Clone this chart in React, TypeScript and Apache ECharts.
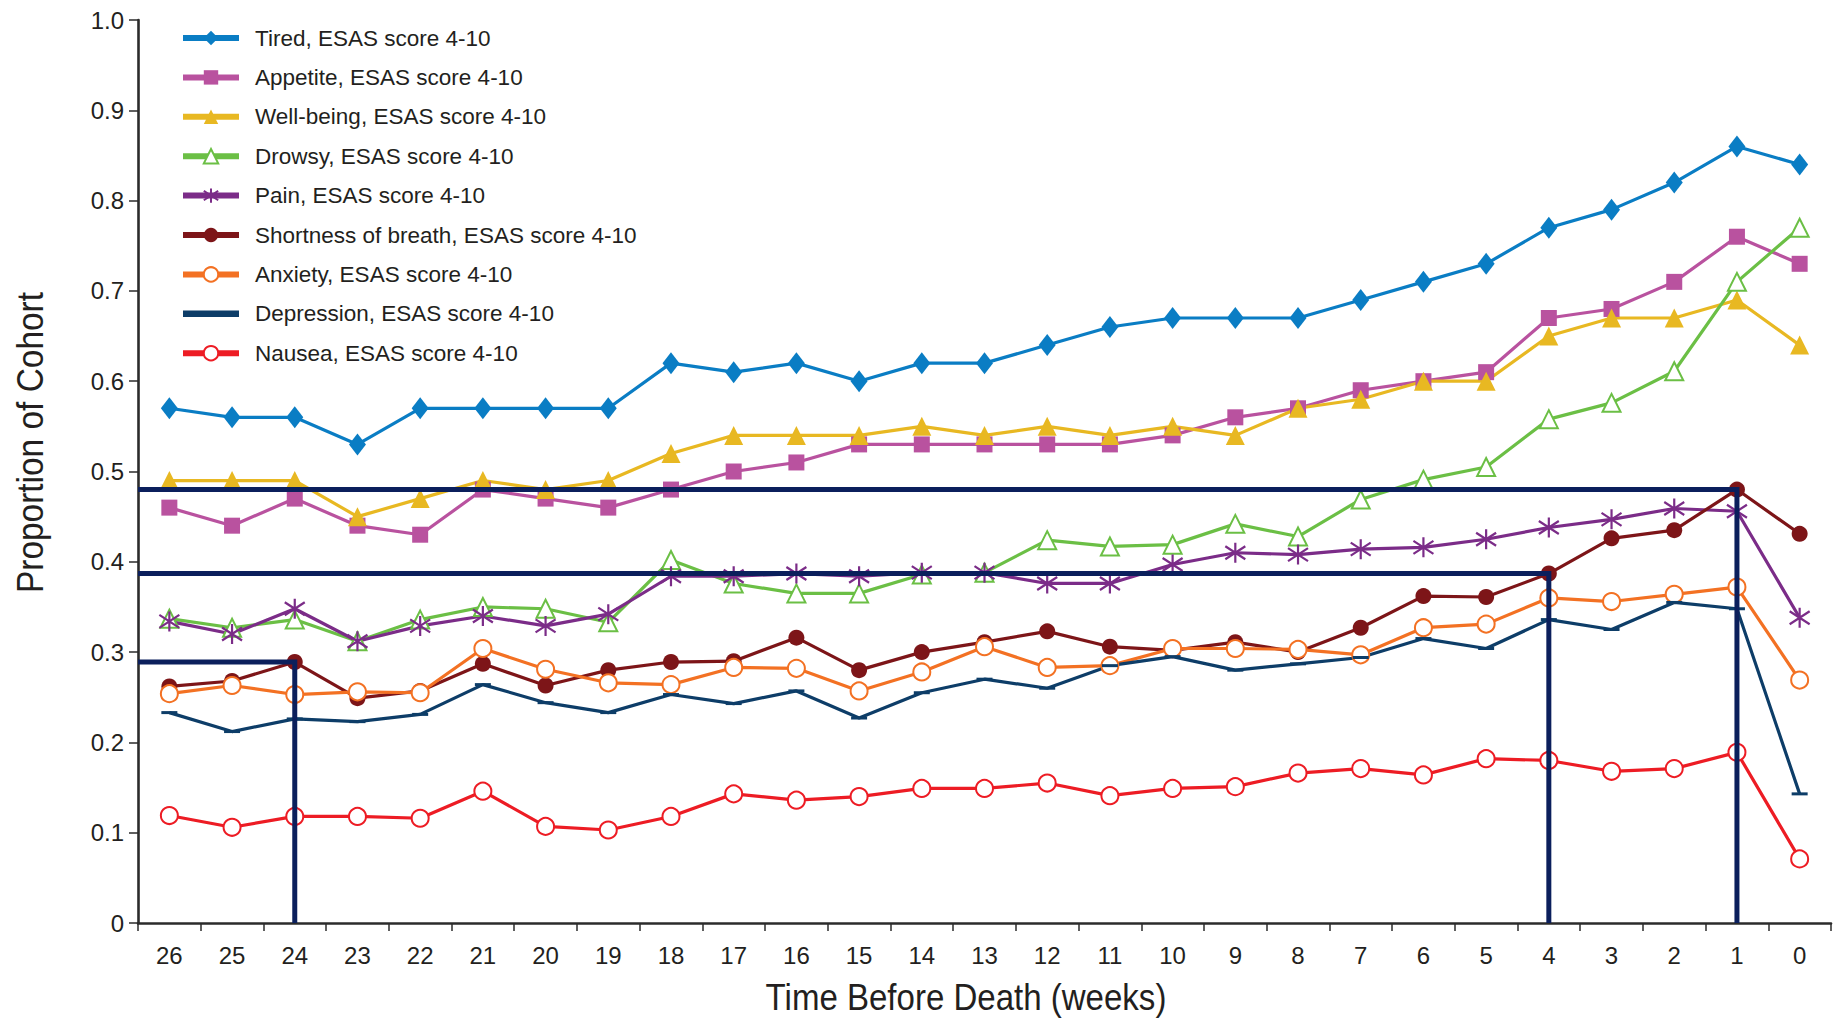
import React, { useEffect, useRef } from "react";
import * as echarts from "echarts";

const weeks = ["26", "25", "24", "23", "22", "21", "20", "19", "18", "17", "16", "15", "14", "13", "12", "11", "10", "9", "8", "7", "6", "5", "4", "3", "2", "1", "0"];

const tired = [0.57, 0.56, 0.56, 0.53, 0.57, 0.57, 0.57, 0.57, 0.62, 0.61, 0.62, 0.60, 0.62, 0.62, 0.64, 0.66, 0.67, 0.67, 0.67, 0.69, 0.71, 0.73, 0.77, 0.79, 0.82, 0.86, 0.84];
const appetite = [0.46, 0.44, 0.47, 0.44, 0.43, 0.48, 0.47, 0.46, 0.48, 0.50, 0.51, 0.53, 0.53, 0.53, 0.53, 0.53, 0.54, 0.56, 0.57, 0.59, 0.60, 0.61, 0.67, 0.68, 0.71, 0.76, 0.73];
const wellbeing = [0.49, 0.49, 0.49, 0.45, 0.47, 0.49, 0.48, 0.49, 0.52, 0.54, 0.54, 0.54, 0.55, 0.54, 0.55, 0.54, 0.55, 0.54, 0.57, 0.58, 0.60, 0.60, 0.65, 0.67, 0.67, 0.69, 0.64];
const drowsy = [0.337, 0.327, 0.336, 0.312, 0.336, 0.350, 0.348, 0.333, 0.402, 0.376, 0.365, 0.365, 0.386, 0.388, 0.424, 0.417, 0.419, 0.442, 0.428, 0.469, 0.491, 0.505, 0.558, 0.576, 0.611, 0.710, 0.770];
const pain = [0.334, 0.320, 0.348, 0.312, 0.329, 0.340, 0.329, 0.342, 0.384, 0.384, 0.387, 0.384, 0.388, 0.388, 0.376, 0.376, 0.397, 0.410, 0.408, 0.414, 0.416, 0.425, 0.438, 0.447, 0.459, 0.456, 0.338];
const breath = [0.262, 0.268, 0.289, 0.249, 0.257, 0.287, 0.263, 0.280, 0.289, 0.290, 0.316, 0.280, 0.300, 0.311, 0.323, 0.306, 0.302, 0.311, 0.300, 0.327, 0.362, 0.361, 0.387, 0.426, 0.435, 0.480, 0.431];
const anxiety = [0.254, 0.263, 0.253, 0.256, 0.255, 0.304, 0.281, 0.266, 0.264, 0.283, 0.282, 0.257, 0.278, 0.306, 0.283, 0.285, 0.304, 0.304, 0.303, 0.297, 0.327, 0.331, 0.360, 0.356, 0.364, 0.372, 0.269];
const depression = [0.233, 0.212, 0.226, 0.223, 0.231, 0.264, 0.244, 0.233, 0.253, 0.243, 0.257, 0.227, 0.255, 0.270, 0.260, 0.285, 0.295, 0.280, 0.287, 0.294, 0.315, 0.304, 0.336, 0.325, 0.355, 0.348, 0.143];
const nausea = [0.119, 0.106, 0.118, 0.118, 0.116, 0.146, 0.107, 0.103, 0.118, 0.143, 0.136, 0.140, 0.149, 0.149, 0.155, 0.141, 0.149, 0.151, 0.166, 0.171, 0.164, 0.182, 0.180, 0.168, 0.171, 0.189, 0.071];

// Reference (median) lines: weeks and values
const refWeeks = ["24", "4", "1"];
const refValues = [0.289, 0.387, 0.48];

const seriesNames = [
  "Tired, ESAS score 4-10",
  "Appetite, ESAS score 4-10",
  "Well-being, ESAS score 4-10",
  "Drowsy, ESAS score 4-10",
  "Pain, ESAS score 4-10",
  "Shortness of breath, ESAS score 4-10",
  "Anxiety, ESAS score 4-10",
  "Depression, ESAS score 4-10",
  "Nausea, ESAS score 4-10",
];

const FONT = "'Liberation Sans', Arial, Helvetica, sans-serif";
const TEXT = "#231f20";
const AXIS = "#2b2b2b";
const NAVY = "#0b1f5c";
const ASTERISK = "path://M10,0 L10,20 M1.5,3.5 L18.5,16.5 M1.5,16.5 L18.5,3.5";

export default function App() {
  const ref = useRef<HTMLDivElement>(null);

  useEffect(() => {
    const chart = echarts.init(ref.current!, null, { renderer: "svg" });

    const styles = [
      { data: tired, color: "#0a7dc4", symbol: "diamond", size: [17, 22], kind: "fill" },
      { data: appetite, color: "#b9529f", symbol: "rect", size: 16, kind: "fill" },
      { data: wellbeing, color: "#e8b822", symbol: "triangle", size: 19, kind: "fill" },
      { data: drowsy, color: "#6bbf45", symbol: "emptyTriangle", size: 18, kind: "empty" },
      { data: pain, color: "#7b2c88", symbol: ASTERISK, size: 20, kind: "stroke" },
      { data: breath, color: "#7d1518", symbol: "circle", size: 16, kind: "fill" },
      { data: anxiety, color: "#f37123", symbol: "emptyCircle", size: 17, kind: "empty" },
      { data: depression, color: "#0d3d68", symbol: "rect", size: [16, 3], kind: "fill" },
      { data: nausea, color: "#ed1c24", symbol: "emptyCircle", size: 17, kind: "empty" },
    ];

    const series: any[] = styles.map((s, i) => ({
      name: seriesNames[i],
      type: "line",
      data: s.data,
      symbol: s.symbol,
      symbolSize: s.size,
      showSymbol: true,
      color: s.color,
      lineStyle: { color: s.color, width: 3.2 },
      itemStyle:
        s.kind === "stroke"
          ? { color: s.color, borderColor: s.color, borderWidth: 2.2 }
          : s.kind === "empty"
          ? { color: s.color, borderWidth: 1.7 }
          : { color: s.color, borderWidth: 0 },
      z: 3,
    }));

    refWeeks.forEach((w, i) => {
      const idx = weeks.indexOf(w);
      const v = refValues[i];
      series.push({
        name: "ref" + i,
        type: "line",
        xAxisIndex: 1,
        data: [
          [-0.5, v],
          [idx, v],
          [idx, 0],
        ],
        symbol: "none",
        lineStyle: { color: NAVY, width: 5, cap: "butt", join: "miter" },
        z: 5,
        silent: true,
      });
    });

    chart.setOption({
      animation: false,
      backgroundColor: "#ffffff",
      grid: { left: 138, right: 4, top: 20, bottom: 99, containLabel: false },
      legend: {
        orient: "vertical",
        left: 180,
        top: 23,
        padding: 0,
        itemWidth: 56,
        itemHeight: 18,
        itemGap: 9.4,
        lineStyle: { width: 6 },
        textStyle: { fontFamily: FONT, fontSize: 22.5, color: TEXT, lineHeight: 24, padding: [0, 0, 6, 11] },
        data: seriesNames.map((n) =>
          n.startsWith("Depression") ? { name: n, icon: "path://M0,0 H60 V7 H0 Z" } : { name: n }
        ),
      },
      xAxis: [
        {
          type: "category",
          data: weeks,
          boundaryGap: true,
          axisLine: { show: true, lineStyle: { color: AXIS, width: 2.6 } },
          axisTick: { show: true, length: 8, lineStyle: { color: AXIS, width: 1.5 } },
          axisLabel: { fontFamily: FONT, fontSize: 24, color: TEXT, margin: 20 },
          splitLine: { show: false },
        },
        {
          type: "value",
          min: -0.5,
          max: 26.5,
          show: false,
          splitLine: { show: false },
        },
      ],
      yAxis: {
        type: "value",
        min: 0,
        max: 1,
        interval: 0.1,
        axisLine: { show: true, onZero: false, lineStyle: { color: AXIS, width: 2.6 } },
        axisTick: { show: true, length: 9, lineStyle: { color: AXIS, width: 1.5 } },
        axisLabel: {
          fontFamily: FONT,
          fontSize: 24,
          color: TEXT,
          margin: 14,
          formatter: (v: number) => (v === 0 ? "0" : v.toFixed(1)),
        },
        splitLine: { show: false },
      },
      graphic: [
        {
          type: "text",
          x: 29.5,
          y: 442.5,
          rotation: Math.PI / 2,
          scaleX: 0.904,
          style: {
            text: "Proportion of Cohort",
            font: `37px ${FONT}`,
            fill: TEXT,
            align: "center",
            verticalAlign: "middle",
          },
        },
        {
          type: "text",
          x: 966,
          y: 997,
          scaleX: 0.893,
          style: {
            text: "Time Before Death (weeks)",
            font: `37px ${FONT}`,
            fill: TEXT,
            align: "center",
            verticalAlign: "middle",
          },
        },
      ],
      series,
    });

    return () => chart.dispose();
  }, []);

  return (
    <div
      ref={ref}
      style={{ position: "absolute", left: 0, top: 0, width: 1835, height: 1022, background: "#fff" }}
    />
  );
}
